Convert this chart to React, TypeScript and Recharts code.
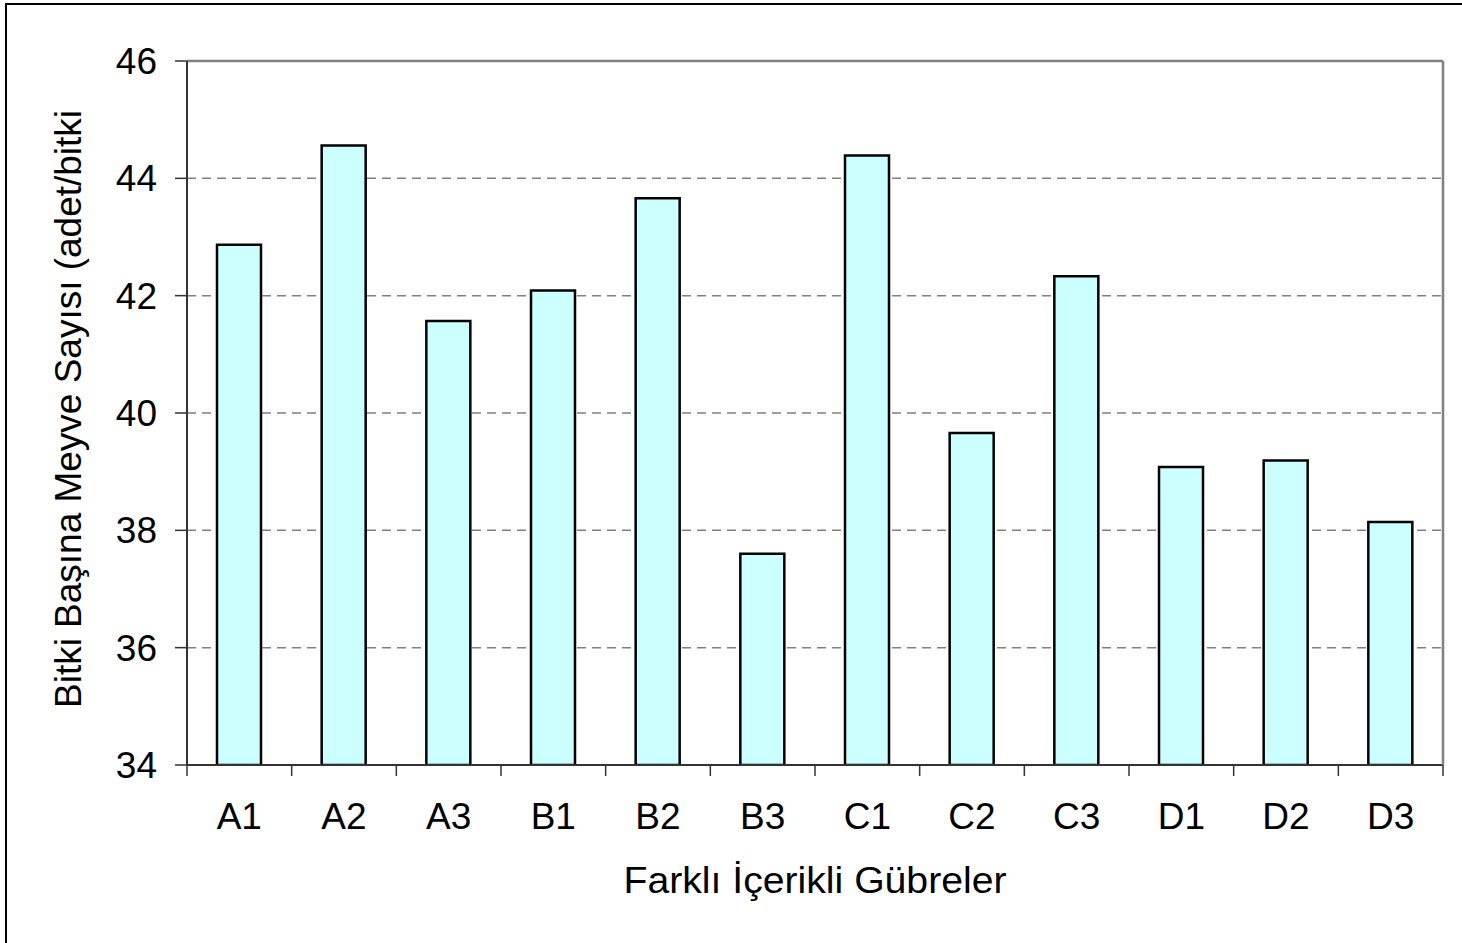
import React from "react";
import {
  BarChart,
  Bar,
  XAxis,
  YAxis,
  CartesianGrid,
} from "recharts";

// Gübre grupları ve bitki başına meyve sayıları
const categories = ["A1", "A2", "A3", "B1", "B2", "B3", "C1", "C2", "C3", "D1", "D2", "D3"];
const meyveSayisi = [42.87, 44.56, 41.57, 42.09, 43.66, 37.6, 44.39, 39.66, 42.33, 39.08, 39.19, 38.14];
const yTicks = [34, 36, 38, 40, 42, 44, 46];

const xTitle = "Farklı İçerikli Gübreler";
const yTitle = "Bitki Başına Meyve Sayısı  (adet/bitki";

const data = categories.map((name, i) => ({ name, value: meyveSayisi[i] }));

const FONT = "'Liberation Sans', Arial, sans-serif";

// category label + tick marks on the category boundaries (Excel style)
function BoundaryTick(props: any) {
  const { x, y, payload, index } = props;
  const half = payload?.offset ?? 52.33;
  const last = index === categories.length - 1;
  return (
    <g>
      <line x1={x - half} x2={x - half} y1={y} y2={y + 11} stroke="#333" strokeWidth={1.5} />
      {last && (
        <line x1={x + half} x2={x + half} y1={y} y2={y + 11} stroke="#333" strokeWidth={1.5} />
      )}
      <text
        x={x}
        y={y + 64}
        textAnchor="middle"
        fontSize={37}
        fontFamily={FONT}
        fill="#000"
      >
        {payload.value}
      </text>
    </g>
  );
}

export default function App() {
  return (
    <div
      style={{
        position: "fixed",
        left: 0,
        top: 0,
        width: 1462,
        height: 943,
        overflow: "hidden",
        background: "#fff",
        fontFamily: FONT,
      }}
    >
      {/* outer chart frame (only left/top visible) */}
      <div
        style={{
          position: "absolute",
          left: 5,
          top: 3,
          width: 1500,
          height: 1000,
          border: "2px solid #000",
        }}
      />
      <div style={{ position: "absolute", left: 0, top: 0 }}>
        <BarChart
          width={1462}
          height={943}
          data={data}
          margin={{ top: 60, right: 18, bottom: 118, left: 0 }}
          barSize={44}
        >
          <CartesianGrid
            vertical={false}
            stroke="#808080"
            strokeWidth={1.5}
            strokeDasharray="9 6"
          />
          {/* top border */}
          <XAxis
            xAxisId="top"
            orientation="top"
            dataKey="name"
            height={1}
            axisLine={{ stroke: "#808080", strokeWidth: 2.5 }}
            tick={false}
            tickLine={false}
          />
          <XAxis
            dataKey="name"
            height={60}
            axisLine={{ stroke: "#333", strokeWidth: 2 }}
            tickLine={false}
            tickSize={0}
            tickMargin={0}
            interval={0}
            tick={<BoundaryTick />}
            label={{
              content: ({ viewBox }: any) => (
                <text
                  x={viewBox.x + viewBox.width / 2}
                  y={viewBox.y + 115}
                  textAnchor="middle"
                  dominantBaseline="central"
                  fontSize={37}
                  fontFamily={FONT}
                  textLength={383}
                  lengthAdjust="spacingAndGlyphs"
                  fill="#000"
                >
                  {xTitle}
                </text>
              ),
            }}
          />
          <YAxis
            width={187}
            domain={[34, 46]}
            ticks={yTicks}
            allowDataOverflow
            axisLine={{ stroke: "#333", strokeWidth: 2 }}
            tickLine={{ stroke: "#333", strokeWidth: 1.5 }}
            tickSize={12}
            tickMargin={18}
            tick={{ fill: "#000", fontSize: 37, fontFamily: FONT }}
            label={{
              content: () => (
                <text
                  x={68}
                  y={409}
                  transform="rotate(-90 68 409)"
                  textAnchor="middle"
                  dominantBaseline="central"
                  fontSize={37}
                  fontFamily={FONT}
                  textLength={598}
                  lengthAdjust="spacingAndGlyphs"
                  fill="#000"
                >
                  {yTitle}
                </text>
              ),
            }}
          />
          {/* right border */}
          <YAxis
            yAxisId="right"
            orientation="right"
            width={1}
            domain={[34, 46]}
            axisLine={{ stroke: "#808080", strokeWidth: 2.5 }}
            tick={false}
            tickLine={false}
          />
          <Bar
            dataKey="value"
            fill="#CCFFFF"
            stroke="#000"
            strokeWidth={2.5}
            isAnimationActive={false}
          />
        </BarChart>
      </div>
    </div>
  );
}
